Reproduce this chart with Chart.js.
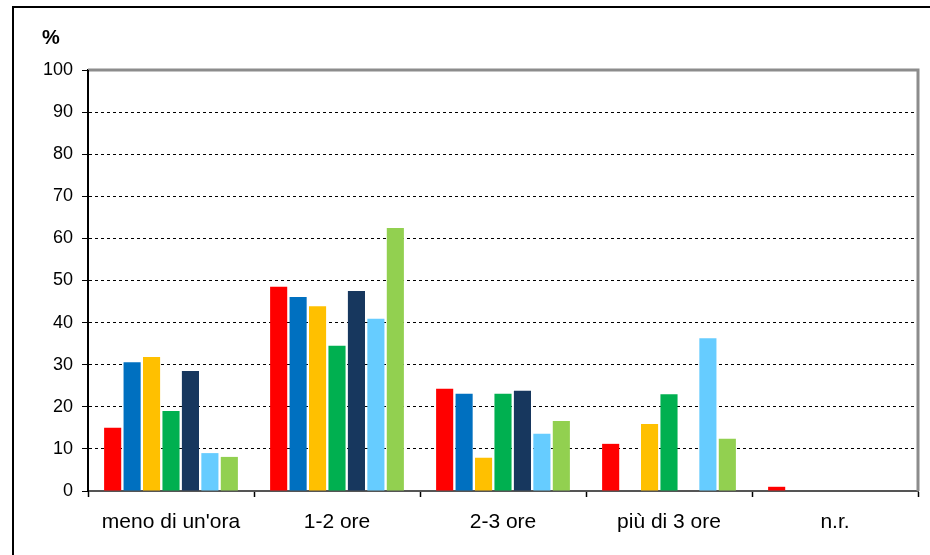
<!DOCTYPE html>
<html>
<head>
<meta charset="utf-8">
<script src="https://cdn.jsdelivr.net/npm/chart.js@4/dist/chart.umd.min.js"></script>
<style>
  body { margin: 0; background: #fff; }
  #wrap { position: relative; width: 930px; height: 555px; }
  #frame { position: absolute; left: 12px; top: 6px; width: 930px; height: 560px;
           border-top: 2px solid #000; border-left: 2px solid #000; }
  canvas { position: absolute; left: 0; top: 0; }
</style>
</head>
<body>
<div id="wrap">
  <div id="frame"></div>
  <canvas id="chart" width="930" height="555"></canvas>
</div>
<script>
// categorie (asse x)
const categorie = ["meno di un'ora", "1-2 ore", "2-3 ore", "più di 3 ore", "n.r."];
// valori per serie (%)
const serie1 = [15.0, 48.5, 24.3, 11.2, 1.0];
const serie2 = [30.6, 46.1, 23.1, null, null];
const serie3 = [31.8, 43.9, 7.9, 15.9, null];
const serie4 = [19.0, 34.5, 23.1, 23.0, null];
const serie5 = [28.5, 47.5, 23.8, null, null];
const serie6 = [9.0, 40.9, 13.6, 36.3, null];
const serie7 = [8.1, 62.5, 16.6, 12.4, null];
const colori = ["#FF0000", "#0070C0", "#FFC000", "#00B050", "#17375E", "#66CCFF", "#92D050"];
const yTicks = [0, 10, 20, 30, 40, 50, 60, 70, 80, 90, 100];

const tutte = [serie1, serie2, serie3, serie4, serie5, serie6, serie7];

// cornice del grafico e simbolo %
const plotFrame = {
    id: 'plotFrame',
    afterDraw(chart) {
        const { ctx, chartArea: a } = chart;
        ctx.save();
        ctx.strokeStyle = '#8c8c8c';
        ctx.lineWidth = 3;
        ctx.beginPath();
        ctx.moveTo(a.left, a.top);
        ctx.lineTo(a.right, a.top);
        ctx.lineTo(a.right, a.bottom);
        ctx.stroke();
        ctx.strokeStyle = '#000';
        ctx.lineWidth = 2;
        ctx.beginPath();
        ctx.moveTo(a.left, a.top);
        ctx.lineTo(a.left, a.bottom + 1);
        ctx.stroke();
        ctx.fillStyle = '#000';
        ctx.font = 'bold 20px "Liberation Sans", Arial, sans-serif';
        ctx.textAlign = 'left';
        ctx.textBaseline = 'middle';
        ctx.fillText('%', a.left - 46, a.top - 32);
        ctx.restore();
    }
};

Chart.defaults.font.family = '"Liberation Sans", Arial, sans-serif';
Chart.defaults.color = '#000';

new Chart(document.getElementById('chart'), {
    type: 'bar',
    data: {
        labels: categorie,
        datasets: tutte.map((d, i) => ({
            label: 'Serie ' + (i + 1),
            data: d,
            backgroundColor: colori[i],
            borderWidth: 0
        }))
    },
    options: {
        responsive: false,
        animation: false,
        layout: { padding: { top: 70, right: 12, left: 0, bottom: 0 } },
        datasets: { bar: { categoryPercentage: 0.82, barPercentage: 0.88 } },
        plugins: { legend: { display: false }, tooltip: { enabled: false } },
        scales: {
            x: {
                grid: { offset: true, drawOnChartArea: false, drawTicks: true, tickLength: 6, tickColor: '#000', tickWidth: 1.5 },
                border: { color: '#555', width: 2 },
                ticks: { font: { size: 21 }, padding: 13 },
                afterFit(s) { s.height = 64; }
            },
            y: {
                min: 0, max: 100,
                afterBuildTicks(s) { s.ticks = yTicks.map(v => ({ value: v })); },
                grid: {
                    color: c => (c.tick && (c.tick.value === 0 || c.tick.value === 100)) ? 'rgba(0,0,0,0)' : '#000',
                    lineWidth: 1,
                    tickColor: '#000',
                    tickLength: 6,
                    tickBorderDash: []
                },
                border: { color: '#000', width: 2, dash: [3, 3] },
                ticks: { font: { size: 18 }, padding: 9 },
                afterFit(s) { s.width = 88; }
            }
        }
    },
    plugins: [plotFrame]
});
</script>
</body>
</html>
